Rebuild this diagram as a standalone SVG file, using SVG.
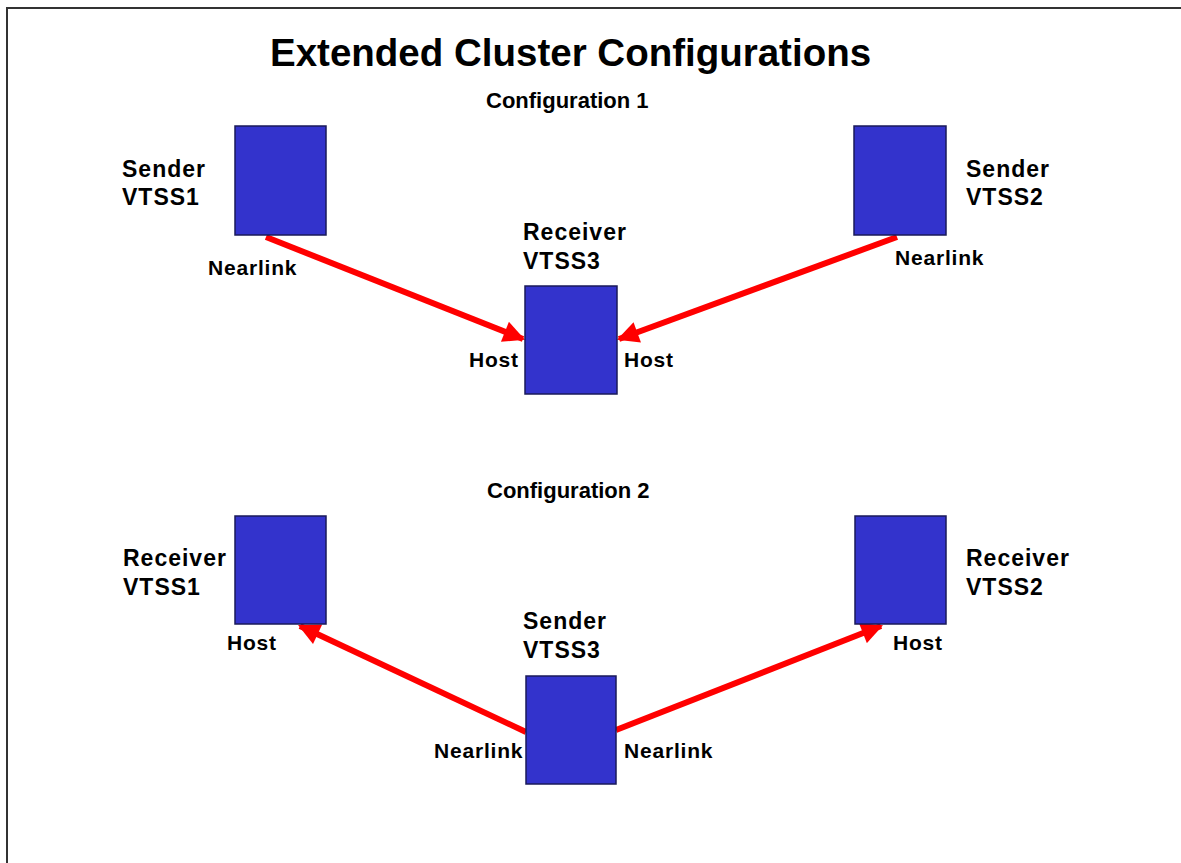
<svg xmlns="http://www.w3.org/2000/svg" width="1181" height="863" viewBox="0 0 1181 863">
<defs>
<style>
.box{fill:#3333CC;stroke:#1a1a5a;stroke-width:1.5}
.lbl{font-family:"Liberation Sans",Arial,sans-serif;font-weight:bold;font-size:23px;fill:#000;letter-spacing:1px}
.port{font-family:"Liberation Sans",Arial,sans-serif;font-weight:bold;font-size:21px;fill:#000;letter-spacing:0.8px}
.sub{font-family:"Liberation Sans",Arial,sans-serif;font-weight:bold;font-size:22px;fill:#000}
.title{font-family:"Liberation Sans",Arial,sans-serif;font-weight:bold;font-size:38.5px;fill:#000}
.conn{stroke:#FF0000;stroke-width:6;fill:none;marker-end:url(#ah)}
</style>
<marker id="ah" viewBox="0 0 10 10" refX="9" refY="5" markerWidth="4" markerHeight="3.6" orient="auto" markerUnits="strokeWidth">
<path d="M0,0 L10,5 L0,10 Z" fill="#FF0000"/>
</marker>
</defs>
<rect x="0" y="0" width="1181" height="863" fill="#fff"/>
<path d="M7,900 L7,8 L1200,8" fill="none" stroke="#333" stroke-width="2"/>
<text class="title" x="270" y="66">Extended Cluster Configurations</text>
<text class="sub" x="486" y="108">Configuration 1</text>
<text class="sub" x="487" y="498">Configuration 2</text>

<g id="connectors">
<line class="conn" x1="266" y1="237" x2="523" y2="339"/>
<line class="conn" x1="897" y1="237" x2="619" y2="339"/>
<line class="conn" x1="526" y1="732" x2="300" y2="626"/>
<line class="conn" x1="616" y1="730" x2="881" y2="626"/>
</g>

<g id="c1-vtss1">
<rect class="box" x="235" y="126" width="91" height="109"/>
<text class="lbl" x="122" y="177">Sender</text>
<text class="lbl" x="122" y="205">VTSS1</text>
<text class="port" x="208" y="275">Nearlink</text>
</g>
<g id="c1-vtss2">
<rect class="box" x="854" y="126" width="92" height="109"/>
<text class="lbl" x="966" y="177">Sender</text>
<text class="lbl" x="966" y="205">VTSS2</text>
<text class="port" x="895" y="265">Nearlink</text>
</g>
<g id="c1-vtss3">
<rect class="box" x="525" y="286" width="92" height="108"/>
<text class="lbl" x="523" y="240">Receiver</text>
<text class="lbl" x="523" y="269">VTSS3</text>
<text class="port" x="469" y="367">Host</text>
<text class="port" x="624" y="367">Host</text>
</g>

<g id="c2-vtss1">
<rect class="box" x="235" y="516" width="91" height="108"/>
<text class="lbl" x="123" y="566">Receiver</text>
<text class="lbl" x="123" y="595">VTSS1</text>
<text class="port" x="227" y="650">Host</text>
</g>
<g id="c2-vtss2">
<rect class="box" x="855" y="516" width="91" height="108"/>
<text class="lbl" x="966" y="566">Receiver</text>
<text class="lbl" x="966" y="595">VTSS2</text>
<text class="port" x="893" y="650">Host</text>
</g>
<g id="c2-vtss3">
<rect class="box" x="526" y="676" width="90" height="108"/>
<text class="lbl" x="523" y="629">Sender</text>
<text class="lbl" x="523" y="658">VTSS3</text>
<text class="port" x="434" y="758">Nearlink</text>
<text class="port" x="624" y="758">Nearlink</text>
</g>
</svg>
